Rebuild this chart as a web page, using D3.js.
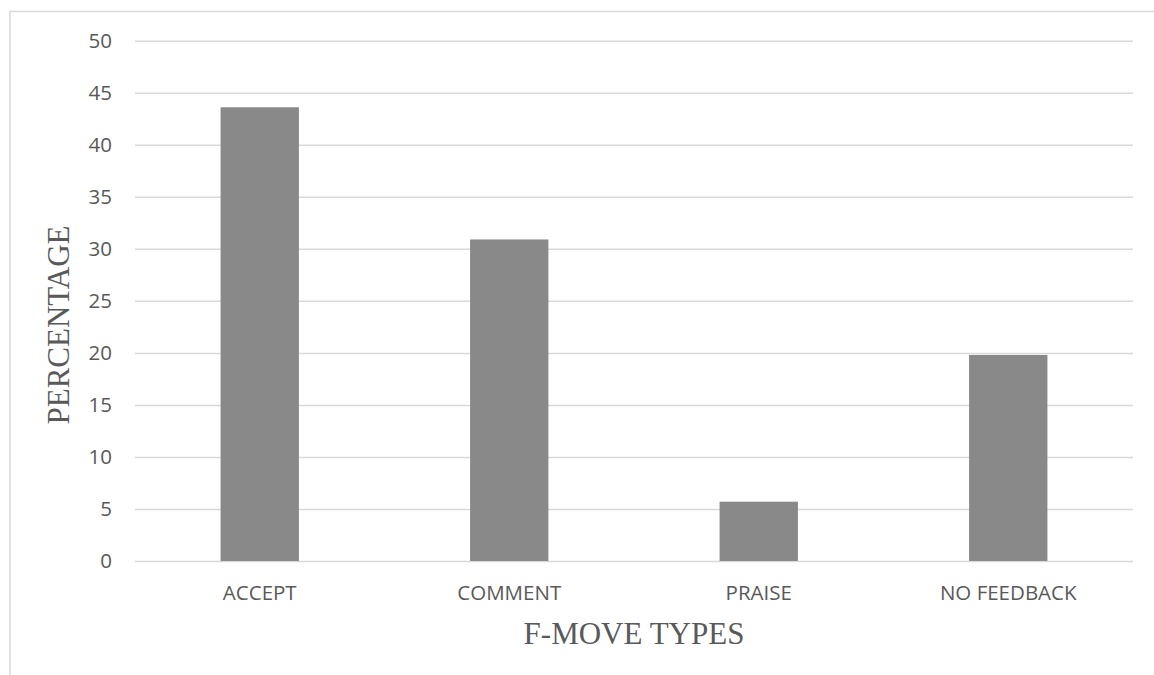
<!DOCTYPE html>
<html>
<head>
<meta charset="utf-8">
<script src="https://cdn.jsdelivr.net/npm/d3@7/dist/d3.min.js"></script>
<style>
  html, body { margin: 0; padding: 0; background: #ffffff; }
  svg { display: block; }
</style>
</head>
<body>
<script>
const categories = ["ACCEPT", "COMMENT", "PRAISE", "NO FEEDBACK"];
const values = [43.6, 30.9, 5.7, 19.8];
const yTicks = [0, 5, 10, 15, 20, 25, 30, 35, 40, 45, 50];
const xTitle = "F-MOVE TYPES";
const yTitle = "PERCENTAGE";

const W = 1154, H = 675;
const plot = { left: 135, right: 1133, top: 40.7, bottom: 561 };

const svg = d3.select("body").append("svg").attr("width", W).attr("height", H);

// chart frame (cropped at right/bottom)
svg.append("rect")
  .attr("x", 10).attr("y", 11.5).attr("width", W + 20).attr("height", H + 20)
  .attr("fill", "none").attr("stroke", "#d9d9d9").attr("stroke-width", 1.5);

const x = d3.scaleBand()
  .domain(categories)
  .range([plot.left, plot.right])
  .paddingInner(0.686)
  .paddingOuter(0.343);

const y = d3.scaleLinear().domain([0, 50]).range([plot.bottom, plot.top]);

// gridlines
const yAxis = d3.axisLeft(y).tickValues(yTicks).tickSize(-(plot.right - plot.left)).tickPadding(23);
const gy = svg.append("g").attr("transform", `translate(${plot.left},0)`).call(yAxis);
gy.select(".domain").remove();
gy.selectAll(".tick line").attr("stroke", "#d9d9d9").attr("stroke-width", 1.5);
gy.selectAll(".tick text")
  .attr("fill", "#595959")
  .style("font-family", "'Open Sans', sans-serif")
  .style("font-size", "20.5px");

// bars
svg.append("g").selectAll("rect")
  .data(categories)
  .join("rect")
  .attr("x", d => x(d))
  .attr("width", x.bandwidth())
  .attr("y", (d, i) => y(values[i]))
  .attr("height", (d, i) => y(0) - y(values[i]))
  .attr("fill", "#898989");

// x axis labels
const xAxis = d3.axisBottom(x).tickSize(0).tickPadding(0);
const gx = svg.append("g").attr("transform", `translate(0,${plot.bottom})`).call(xAxis);
gx.select(".domain").remove();
gx.selectAll(".tick text")
  .attr("y", 39).attr("dy", null)
  .attr("fill", "#595959")
  .style("font-family", "'Open Sans', sans-serif")
  .style("font-size", "20.5px");

// axis titles
svg.append("text")
  .attr("x", (plot.left + plot.right) / 2)
  .attr("y", 644)
  .attr("text-anchor", "middle")
  .attr("fill", "#595959")
  .style("font-family", "'Liberation Serif', serif")
  .style("font-size", "31px")
  .text(xTitle);

svg.append("text")
  .attr("transform", "translate(69,325) rotate(-90)")
  .attr("text-anchor", "middle")
  .attr("fill", "#595959")
  .style("font-family", "'Liberation Serif', serif")
  .style("font-size", "31px")
  .text(yTitle);
</script>
</body>
</html>
